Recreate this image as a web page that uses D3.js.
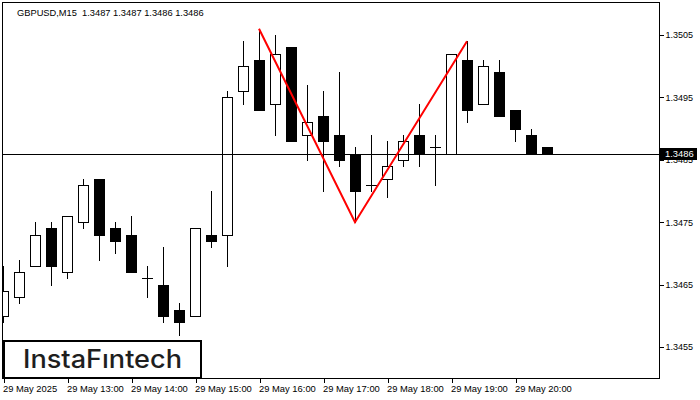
<!DOCTYPE html>
<html><head><meta charset="utf-8">
<script src="https://cdn.jsdelivr.net/npm/d3@7"></script>
<style>body{margin:0;background:#fff}svg{display:block}</style>
</head><body><svg id="c" width="700" height="400"></svg>
<script>
const symbol = "GBPUSD,M15";
const headerValues = ["1.3487", "1.3487", "1.3486", "1.3486"];
const times = ["12:00","12:15","12:30","12:45","13:00","13:15","13:30","13:45",
  "14:00","14:15","14:30","14:45","15:00","15:15","15:30","15:45",
  "16:00","16:15","16:30","16:45","17:00","17:15","17:30","17:45",
  "18:00","18:15","18:30","18:45","19:00","19:15","19:30","19:45",
  "20:00","20:15","20:30"];
const open  = [1.3460,1.3463,1.3468,1.3474,1.3467,1.3475,1.3482,1.3474,
  1.3473,1.3466,1.3465,1.3461,1.3460,1.3473,1.3473,1.3496,
  1.3501,1.3494,1.3503,1.3489,1.3492,1.3489,1.3486,1.3481,
  1.3482,1.3485,1.3489,1.3487,1.3486,1.3501,1.3494,1.3499,
  1.3493,1.3489,1.3487];
const high  = [1.3468,1.3469,1.3475,1.3475,1.3476,1.3482,1.3482,1.3475,
  1.3476,1.3468,1.3471,1.3462,1.3474,1.3480,1.3496,1.3504,
  1.3506,1.3505,1.3503,1.3497,1.3496,1.3499,1.3487,1.3489,
  1.3488,1.3489,1.3494,1.3489,1.3502,1.3504,1.3501,1.3501,
  1.3493,1.3490,1.3487];
const low   = [1.3459,1.3462,1.3468,1.3465,1.3466,1.3474,1.3469,1.3470,
  1.3467,1.3463,1.3459,1.3457,1.3460,1.3471,1.3468,1.3494,
  1.3493,1.3489,1.3488,1.3485,1.3480,1.3484,1.3475,1.3480,
  1.3479,1.3484,1.3484,1.3481,1.3486,1.3491,1.3494,1.3492,
  1.3488,1.3486,1.3486];
const close = [1.3464,1.3467,1.3473,1.3468,1.3476,1.3481,1.3473,1.3472,
  1.3467,1.3466,1.3460,1.3459,1.3474,1.3472,1.3495,1.3500,
  1.3493,1.3502,1.3488,1.3491,1.3488,1.3485,1.3480,1.3481,
  1.3484,1.3488,1.3486,1.3487,1.3502,1.3493,1.3500,1.3492,
  1.3490,1.3486,1.3486];
const yTicks = [1.3455, 1.3465, 1.3475, 1.3485, 1.3495, 1.3505];
const xTickTimes = ["12:00","13:00","14:00","15:00","16:00","17:00","18:00","19:00","20:00"];
const xTickLabels = ["29 May 2025","29 May 13:00","29 May 14:00","29 May 15:00","29 May 16:00",
  "29 May 17:00","29 May 18:00","29 May 19:00","29 May 20:00"];
const currentPrice = 1.3486;
const patternTimes = ["16:00", "17:30", "19:15"];
const patternPrices = [1.3506, 1.3475, 1.3504];
const logoText = "InstaF\u0131ntech";

const parse = d3.utcParse("%Y-%m-%d %H:%M");
const T = t => parse("2025-05-29 " + t);

const L = 3, R = 659, TOP = 3, B = 378;
const svg = d3.select("#c");
const x = d3.scaleUtc().domain([T(times[0]), T(times[times.length-1])]).range([3, 3 + 16*(times.length-1)]);
const y = d3.scaleLinear().domain([1.3455, 1.3505]).range([347, 35]);
const cr = v => Math.round(v) + 0.5;
const FONT = "'Liberation Sans', Arial, sans-serif";

svg.append("defs").append("clipPath").attr("id","plot")
  .append("rect").attr("x", L).attr("y", TOP).attr("width", R-L).attr("height", B-TOP);

// candles
const data = times.map((t,i)=>({t:T(t), o:open[i], h:high[i], l:low[i], c:close[i]}));
const g = svg.append("g").attr("clip-path","url(#plot)").attr("shape-rendering","crispEdges");
data.forEach(d=>{
  const cx = Math.round(x(d.t));
  const yh = cr(y(d.h)), yl = cr(y(d.l));
  g.append("line").attr("x1", cx+0.5).attr("x2", cx+0.5).attr("y1", yh-0.5).attr("y2", yl+0.5)
    .attr("stroke","#000").attr("stroke-width",1);
  if (d.o === d.c) {
    const yy = cr(y(d.o));
    g.append("line").attr("x1", cx-5).attr("x2", cx+6).attr("y1", yy).attr("y2", yy)
      .attr("stroke","#000").attr("stroke-width",1);
  } else {
    const yt = cr(y(Math.max(d.o,d.c))), yb = cr(y(Math.min(d.o,d.c)));
    g.append("rect").attr("x", cx-4.5).attr("y", yt).attr("width", 10).attr("height", yb-yt)
      .attr("fill", d.c > d.o ? "#fff" : "#000").attr("stroke","#000").attr("stroke-width",1);
  }
});

// current price line
const yp = cr(y(currentPrice));
svg.append("line").attr("x1", L).attr("x2", R+1).attr("y1", yp).attr("y2", yp)
  .attr("stroke","#000").attr("stroke-width",1).attr("shape-rendering","crispEdges");

// pattern
const pts = patternTimes.map((t,i)=>[x(T(t)), y(patternPrices[i])]);
svg.append("path").attr("d", d3.line()(pts)).attr("fill","none")
  .attr("stroke","#ff0000").attr("stroke-width",2).attr("clip-path","url(#plot)");

// border
svg.append("rect").attr("x", L-0.5).attr("y", TOP-0.5).attr("width", R-L+1).attr("height", B-TOP+1)
  .attr("fill","none").attr("stroke","#000").attr("stroke-width",1).attr("shape-rendering","crispEdges");

// y axis
const ya = svg.append("g").attr("transform", `translate(${R+0.5},0)`)
  .call(d3.axisRight(y).tickValues(yTicks).tickFormat(d3.format(".4f")).tickSize(4).tickPadding(2));
ya.select(".domain").remove();
ya.selectAll("line").attr("shape-rendering","crispEdges");
ya.selectAll("text").attr("font-family", FONT).attr("font-size", 9).attr("fill","#000");
ya.attr("font-size", null);

// x axis
const xa = svg.append("g").attr("transform", `translate(0.5,${B+0.5})`)
  .call(d3.axisBottom(x).tickValues(xTickTimes.map(T)).tickFormat((d,i)=>xTickLabels[i]).tickSize(4).tickPadding(3));
xa.select(".domain").remove();
xa.selectAll("line").attr("shape-rendering","crispEdges");
xa.selectAll("text").attr("text-anchor","start").attr("dx", -1)
  .attr("font-family", FONT).attr("font-size", 9.4).attr("fill","#000");

// price label
svg.append("rect").attr("x", 660).attr("y", 148).attr("width", 37).attr("height", 12).attr("fill","#000");
svg.append("text").attr("x", 665).attr("y", 154).attr("dy","0.35em")
  .attr("font-family", FONT).attr("font-size", 9.4).attr("fill","#fff").text(d3.format(".4f")(currentPrice));

// header
svg.append("text").attr("x", 17).attr("y", 16).attr("font-family", FONT).attr("font-size", 9.3)
  .attr("fill","#000").attr("xml:space","preserve").style("white-space","pre")
  .text(symbol + "  " + headerValues.join(" "));

// logo
svg.append("rect").attr("x", 4).attr("y", 341).attr("width", 197).attr("height", 37)
  .attr("fill","#fff").attr("stroke","#000").attr("stroke-width",2);
svg.append("text").attr("x", 23).attr("y", 368).attr("font-family","Inter, 'Open Sans', sans-serif")
  .attr("font-weight", 500).attr("font-size", 25).attr("fill","#1e1e1e")
  .attr("textLength", 159).attr("lengthAdjust","spacingAndGlyphs").text(logoText);
</script></body></html>
